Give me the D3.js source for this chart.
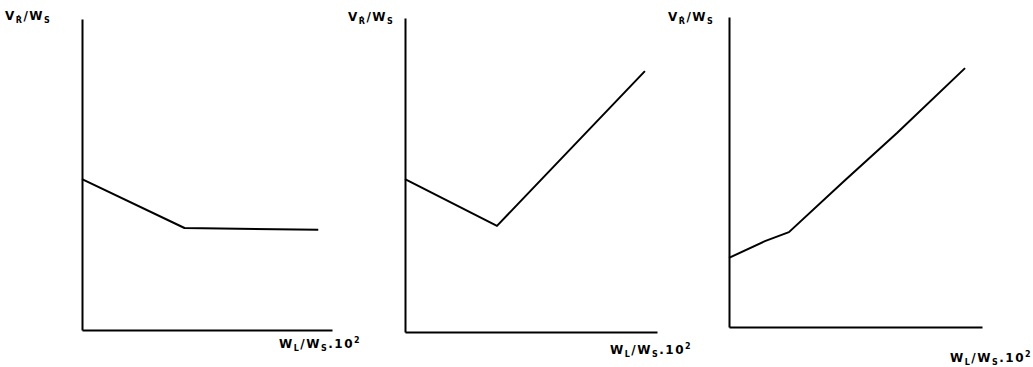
<!DOCTYPE html>
<head>
  <meta charset="utf-8">
  <style>
  body {
    margin: 0;
    background: #fff;
  }

  .axis path {
    stroke: #000;
    stroke-width: 2px;
  }

  .line {
    fill: none;
    stroke: #000;
    stroke-width: 2px;
    stroke-linejoin: round;
  }

  .label {
    font-family: "DejaVu Sans", sans-serif;
    font-weight: bold;
    font-size: 12px;
    fill: #000;
    letter-spacing: 1.5px;
  }
</style>
</head>
<svg class="chart" width="1033" height="367"></svg>

<script src="https://cdn.jsdelivr.net/npm/d3@7"></script>
<script>
// values, in % of each axis length
var panel1X = [0, 41, 94.5];
var panel1Y = [48.5, 32.8, 32.2];

var panel2X = [0, 36.5, 95.2];
var panel2Y = [48.7, 33.8, 83.1];

var panel3X = [0, 14.2, 23.7, 45.1, 66.4, 93.3];
var panel3Y = [22.3, 27.7, 30.6, 46.8, 62.6, 83.5];

// label pieces: [text, "sub" | "sup" | ""]
var yTitle = [["V", ""], ["Ṙ", "sub"], ["/W", ""], ["S", "sub"]];
var xTitle = [["W", ""], ["L", "sub"], ["/W", ""], ["S", "sub"], [".10", ""], ["2", "sup"]];

var svg = d3.select("svg");

// where each little chart sits on the page
var panels = [
  { xs: panel1X, ys: panel1Y, left: 82, top: 19, width: 250, height: 311,
    yLab: [5, 20], xLab: [279, 348] },
  { xs: panel2X, ys: panel2Y, left: 405, top: 18, width: 252, height: 314,
    yLab: [348, 21], xLab: [610, 354] },
  { xs: panel3X, ys: panel3Y, left: 729, top: 17, width: 253, height: 310,
    yLab: [668, 21], xLab: [950, 362] }
];

function drawLabel(parts, pos) {
  var t = svg.append("text")
    .attr("class", "label")
    .attr("x", pos[0])
    .attr("y", pos[1]);
  var shift = 0;
  parts.forEach(function(p) {
    var want = p[1] === "sub" ? 3 : p[1] === "sup" ? -5 : 0;
    t.append("tspan")
      .attr("dy", want - shift)
      .attr("font-size", p[1] ? "8px" : null)
      .text(p[0]);
    shift = want;
  });
}

panels.forEach(function(p) {
  var g = svg.append("g")
    .attr("transform", "translate(" + p.left + "," + p.top + ")");

  var x = d3.scaleLinear().domain([0, 100]).range([0, p.width]),
    y = d3.scaleLinear().domain([0, 100]).range([p.height, 0]);

  g.append("g")
    .attr("class", "axis axis--x")
    .attr("transform", "translate(0," + p.height + ")")
    .call(d3.axisBottom(x).ticks(0).tickSizeOuter(0));

  g.append("g")
    .attr("class", "axis axis--y")
    .call(d3.axisLeft(y).ticks(0).tickSizeOuter(0));

  var pts = p.xs.map(function(v, i) {
    return { x: v, y: p.ys[i] };
  });

  var line = d3.line()
    .x(function(d) { return x(d.x); })
    .y(function(d) { return y(d.y); });

  g.append("path")
    .datum(pts)
    .attr("class", "line")
    .attr("d", line);

  drawLabel(yTitle, p.yLab);
  drawLabel(xTitle, p.xLab);
});
</script>
